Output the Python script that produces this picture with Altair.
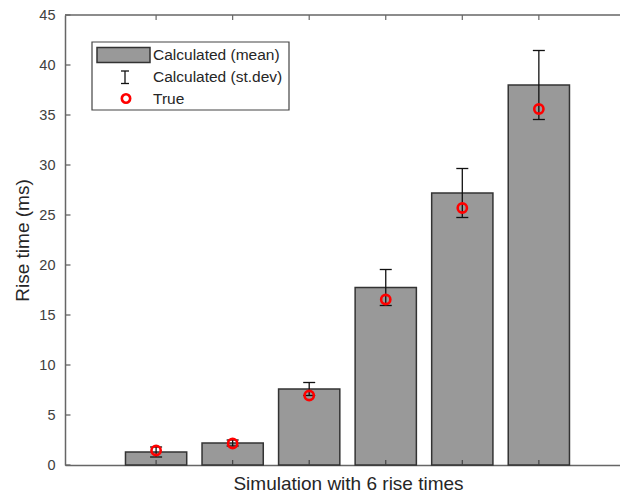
import altair as alt
import pandas as pd

# ---- data ----
trial = [1, 2, 3, 4, 5, 6]
calc_mean = [1.3, 2.2, 7.6, 17.75, 27.2, 38.0]
calc_std = [0.5, 0.3, 0.65, 1.8, 2.45, 3.45]
true_val = [1.45, 2.15, 6.95, 16.55, 25.7, 35.6]
y_ticks = [0, 5, 10, 15, 20, 25, 30, 35, 40, 45]
x_ticks = [1, 2, 3, 4, 5, 6]
legend_labels = ["Calculated (mean)", "Calculated (st.dev)", "True"]

FONT = "Liberation Sans"
W, H = 555, 450
AX = "#666666"
TXT = "#262626"

df = pd.DataFrame({"trial": trial, "mean": calc_mean, "std": calc_std, "true": true_val})
df_y = pd.DataFrame({"v": y_ticks})
df_x = pd.DataFrame({"t": x_ticks})
one = pd.DataFrame({"a": [0]})

xscale = alt.Scale(domain=[-0.19, 7.06], nice=False, zero=False)
yscale = alt.Scale(domain=[0, 45], nice=False, zero=True)

base = alt.Chart(df)

bars = base.transform_calculate(
    x0="datum.trial - 0.4", x1="datum.trial + 0.4"
).mark_bar(color="#999999", stroke="#333333", strokeWidth=1.5, opacity=1).encode(
    x=alt.X("x0:Q", scale=xscale, axis=alt.Axis(
        title="Simulation with 6 rise times", labels=False, ticks=False, tickSize=0,
        grid=False, domain=True, domainColor=AX, domainWidth=1.5,
        titleFont=FONT, titleFontSize=19, titleFontWeight="normal", titleColor=TXT,
        titlePadding=9, titleX=283, titleAlign="center")),
    x2="x1:Q",
    y=alt.Y("mean:Q", scale=yscale, axis=alt.Axis(
        title="Rise time (ms)", values=y_ticks, ticks=False, tickSize=0, grid=False,
        domain=True, domainColor=AX, domainWidth=1.5,
        labelFont=FONT, labelFontSize=14.5, labelColor="#404040", labelPadding=10,
        titleFont=FONT, titleFontSize=19, titleFontWeight="normal", titleColor=TXT,
        titlePadding=6)),
    y2=alt.datum(0),
)

err = base.transform_calculate(
    lo="datum.mean - datum.std", hi="datum.mean + datum.std"
).mark_rule(color="#111111", strokeWidth=1.3).encode(
    x=alt.X("trial:Q", scale=xscale, axis=None),
    y=alt.Y("lo:Q", scale=yscale, axis=None),
    y2="hi:Q",
)

caps = base.transform_calculate(
    lo="datum.mean - datum.std", hi="datum.mean + datum.std"
).transform_fold(["lo", "hi"], as_=["end", "val"]).mark_tick(
    orient="horizontal", size=12, thickness=1.3, color="#111111", opacity=1
).encode(
    x=alt.X("trial:Q", scale=xscale, axis=None),
    y=alt.Y("val:Q", scale=yscale, axis=None),
)

circles = base.mark_point(
    shape="circle", filled=False, color="#ff0000", strokeWidth=2.6, size=85, opacity=1
).encode(
    x=alt.X("trial:Q", scale=xscale, axis=None),
    y=alt.Y("true:Q", scale=yscale, axis=None),
)

# inward axis ticks
yt = alt.Chart(df_y).mark_rule(color=AX, strokeWidth=1.3).encode(
    y=alt.Y("v:Q", scale=yscale, axis=None), x=alt.value(0), x2=alt.value(5.5))
xt_bot = alt.Chart(df_x).mark_rule(color="#444444", strokeWidth=1.2).encode(
    x=alt.X("t:Q", scale=xscale, axis=None), y=alt.value(H), y2=alt.value(H - 5))
xt_top = alt.Chart(df_x).mark_rule(color=AX, strokeWidth=1.2).encode(
    x=alt.X("t:Q", scale=xscale, axis=None), y=alt.value(0), y2=alt.value(5))
top_line = alt.Chart(one).mark_rule(color=AX, strokeWidth=1.5).encode(
    x=alt.value(0), x2=alt.value(W), y=alt.value(0))

# legend
leg_box = alt.Chart(one).mark_rect(fill="white", stroke="#444444", strokeWidth=1.2).encode(
    x=alt.value(27), x2=alt.value(224), y=alt.value(27), y2=alt.value(95))
leg_swatch = alt.Chart(one).mark_rect(fill="#999999", stroke="#333333", strokeWidth=1.5).encode(
    x=alt.value(32), x2=alt.value(85), y=alt.value(32.5), y2=alt.value(47.5))
leg_err = alt.Chart(one).mark_rule(color="#111111", strokeWidth=1.3).encode(
    x=alt.value(60), y=alt.value(56), y2=alt.value(68.5))
leg_cap1 = alt.Chart(one).mark_rule(color="#111111", strokeWidth=1.3).encode(
    x=alt.value(56), x2=alt.value(64), y=alt.value(56))
leg_cap2 = alt.Chart(one).mark_rule(color="#111111", strokeWidth=1.3).encode(
    x=alt.value(56), x2=alt.value(64), y=alt.value(68.5))
leg_circ = alt.Chart(one).mark_point(
    shape="circle", filled=False, color="#ff0000", strokeWidth=2.6, size=70, opacity=1
).encode(x=alt.value(61), y=alt.value(83.5))
leg_df = pd.DataFrame({"label": legend_labels, "row": [0, 1, 2]})
leg_text = alt.Chart(leg_df).mark_text(
    align="left", baseline="middle", font=FONT, fontSize=15.5, color=TXT
).encode(
    x=alt.value(88),
    y=alt.Y("row:Q", scale=alt.Scale(domain=[0, 2], range=[40, 83.5]), axis=None),
    text="label:N",
)

chart = alt.layer(
    bars, xt_bot, err, caps, circles, yt, xt_top, top_line,
    leg_box, leg_swatch, leg_err, leg_cap1, leg_cap2, leg_circ, leg_text
).resolve_scale(x="independent", y="independent").properties(
    width=W, height=H,
    autosize=alt.AutoSizeParams(type="none"),
    padding={"left": 65, "top": 15, "right": 0, "bottom": 30},
    background="white",
).configure_view(stroke=None)

chart.save("out.html", embed_options={"renderer": "svg", "actions": False})
